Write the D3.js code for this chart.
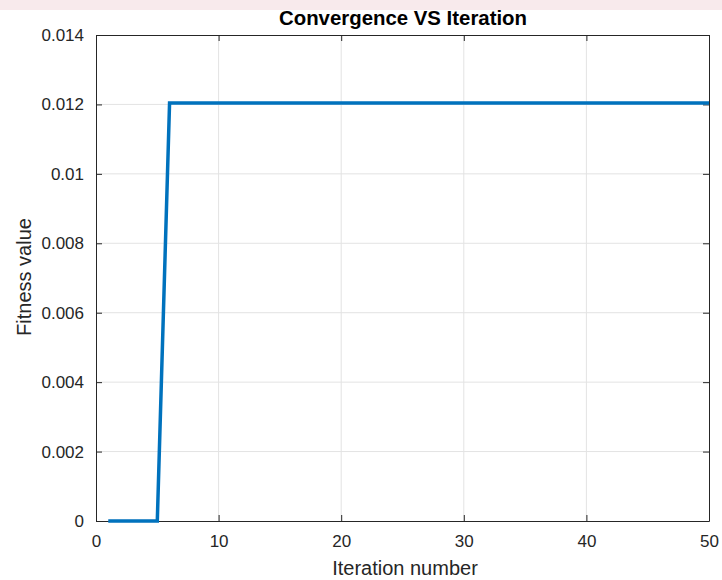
<!DOCTYPE html>
<html>
<head>
<meta charset="utf-8">
<script src="https://cdn.jsdelivr.net/npm/d3@7"></script>
<style>
  body { margin: 0; background: #fff; }
  svg { font-family: "Liberation Sans", Arial, sans-serif; }
</style>
</head>
<body>
<svg width="722" height="580"></svg>
<script>
// data
var iterations = d3.range(1, 51);
var fitness = [0, 0, 0, 0, 0,
  0.01204, 0.01204, 0.01204, 0.01204, 0.01204,
  0.01204, 0.01204, 0.01204, 0.01204, 0.01204,
  0.01204, 0.01204, 0.01204, 0.01204, 0.01204,
  0.01204, 0.01204, 0.01204, 0.01204, 0.01204,
  0.01204, 0.01204, 0.01204, 0.01204, 0.01204,
  0.01204, 0.01204, 0.01204, 0.01204, 0.01204,
  0.01204, 0.01204, 0.01204, 0.01204, 0.01204,
  0.01204, 0.01204, 0.01204, 0.01204, 0.01204,
  0.01204, 0.01204, 0.01204, 0.01204, 0.01204];
var xTicks = [0, 10, 20, 30, 40, 50];
var yTicks = [0, 0.002, 0.004, 0.006, 0.008, 0.01, 0.012, 0.014];
var yTickLabels = ["0", "0.002", "0.004", "0.006", "0.008", "0.01", "0.012", "0.014"];

var svg = d3.select("svg");
var pLeft = 96, pRight = 709, pTop = 35, pBottom = 521;

// faint watermark band at the top
svg.append("rect").attr("x", 0).attr("y", 0).attr("width", 722).attr("height", 10)
  .attr("fill", "#f8eaec");

var x = d3.scaleLinear().domain([0, 50]).range([pLeft, pRight]);
var y = d3.scaleLinear().domain([0, 0.014]).range([pBottom, pTop]);

// grid
svg.append("g").selectAll("line").data(xTicks.slice(1, -1)).enter().append("line")
  .attr("x1", function(d){ return x(d); }).attr("x2", function(d){ return x(d); })
  .attr("y1", pTop).attr("y2", pBottom)
  .attr("stroke", "#e3e3e3").attr("stroke-width", 1);
svg.append("g").selectAll("line").data(yTicks.slice(1, -1)).enter().append("line")
  .attr("y1", function(d){ return y(d); }).attr("y2", function(d){ return y(d); })
  .attr("x1", pLeft).attr("x2", pRight)
  .attr("stroke", "#e3e3e3").attr("stroke-width", 1);

// axes (ticks point inward like MATLAB)
var xAxis = svg.append("g").attr("transform", "translate(0," + pBottom + ")")
  .call(d3.axisBottom(x).tickValues(xTicks).tickSizeInner(-6).tickSizeOuter(0).tickPadding(14));
var yAxis = svg.append("g").attr("transform", "translate(" + pLeft + ",0)")
  .call(d3.axisLeft(y).tickValues(yTicks).tickSizeInner(-6).tickSizeOuter(0).tickPadding(12)
    .tickFormat(function(d, i){ return yTickLabels[i]; }));
var xTop = svg.append("g").attr("transform", "translate(0," + pTop + ")")
  .call(d3.axisTop(x).tickValues(xTicks).tickSizeInner(-6).tickSizeOuter(0).tickFormat(""));
var yRight = svg.append("g").attr("transform", "translate(" + pRight + ",0)")
  .call(d3.axisRight(y).tickValues(yTicks).tickSizeInner(-6).tickSizeOuter(0).tickFormat(""));

[xAxis, yAxis, xTop, yRight].forEach(function(a){
  a.select(".domain").attr("stroke", "#262626");
  a.selectAll(".tick line").attr("stroke", "#262626");
  a.selectAll(".tick text").attr("fill", "#262626").style("font-size", "17px")
    .style("font-family", "'Liberation Sans', Arial, sans-serif");
});

// line
var line = d3.line()
  .x(function(d, i){ return x(iterations[i]); })
  .y(function(d){ return y(d); });
svg.append("path").datum(fitness)
  .attr("d", line)
  .attr("fill", "none")
  .attr("stroke", "#0072BD")
  .attr("stroke-width", 3.5)
  .attr("stroke-linejoin", "miter");

// labels
svg.append("text").attr("x", 403).attr("y", 25)
  .attr("text-anchor", "middle").attr("font-weight", "bold")
  .attr("font-size", "20px").attr("fill", "#000")
  .attr("textLength", 248).attr("lengthAdjust", "spacingAndGlyphs")
  .text("Convergence VS Iteration");
svg.append("text").attr("x", 405).attr("y", 575)
  .attr("text-anchor", "middle").attr("font-size", "20px").attr("fill", "#262626")
  .text("Iteration number");
svg.append("text").attr("transform", "translate(31," + 277 + ") rotate(-90)")
  .attr("text-anchor", "middle").attr("font-size", "20px").attr("fill", "#262626")
  .text("Fitness value");
</script>
</body>
</html>
